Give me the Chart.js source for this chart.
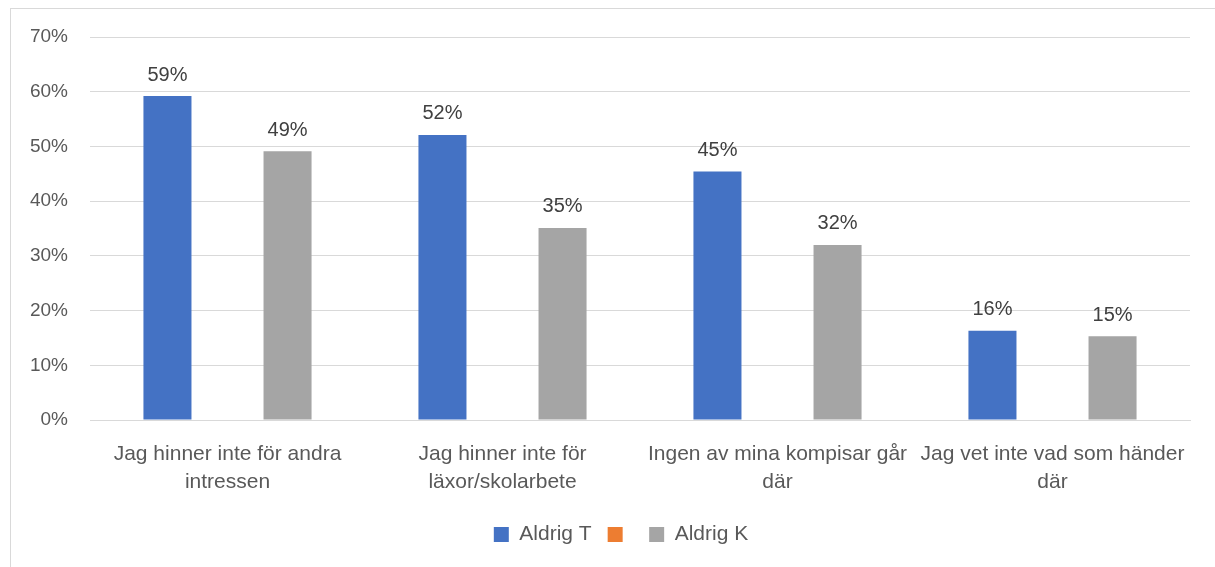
<!DOCTYPE html>
<html>
<head>
<meta charset="utf-8">
<script src="https://cdn.jsdelivr.net/npm/chart.js@4"></script>
<style>
  html, body { margin: 0; padding: 0; background: #fff; }
  #wrap { position: relative; width: 1215px; height: 567px; }
  #frame { position: absolute; left: 10px; top: 8px; width: 1215px; height: 600px; border: 1px solid #D9D9D9; box-sizing: border-box; }
  canvas { position: absolute; left: 0; top: 0; }
</style>
</head>
<body>
<div id="wrap">
  <div id="frame"></div>
  <canvas id="chart" width="1215" height="567"></canvas>
</div>
<script>
const categories = [
  ['Jag hinner inte för andra', 'intressen'],
  ['Jag hinner inte för', 'läxor/skolarbete'],
  ['Ingen av mina kompisar går', 'där'],
  ['Jag vet inte vad som händer', 'där']
];
const aldrigT = [59.2, 52.1, 45.4, 16.3];
const blank = [null, null, null, null];
const aldrigK = [49.1, 35.1, 32.0, 15.3];
const yTicks = [0, 10, 20, 30, 40, 50, 60, 70];

const font = 'Liberation Sans';

// labels above bars, rounded like the original
const barLabels = {
  id: 'barLabels',
  afterLayout(chart) {
    // the original legend sits a bit right of centre
    chart.legend.left += 52;
  },
  afterDatasetsDraw(chart) {
    const ctx = chart.ctx;
    ctx.save();
    ctx.font = '20px ' + font;
    ctx.fillStyle = '#404040';
    ctx.textAlign = 'center';
    ctx.textBaseline = 'bottom';
    chart.data.datasets.forEach((ds, i) => {
      const meta = chart.getDatasetMeta(i);
      meta.data.forEach((bar, j) => {
        const v = ds.data[j];
        if (v == null) return;
        ctx.fillText(Math.round(v) + '%', bar.x, bar.y - 11);
      });
    });
    ctx.restore();
  }
};

new Chart(document.getElementById('chart'), {
  type: 'bar',
  data: {
    labels: categories,
    datasets: [
      { label: 'Aldrig T', data: aldrigT, backgroundColor: '#4472C4' },
      { label: '', data: blank, backgroundColor: '#ED7D31' },
      { label: 'Aldrig K', data: aldrigK, backgroundColor: '#A5A5A5' }
    ]
  },
  options: {
    responsive: false,
    animation: false,
    categoryPercentage: 0.655,
    barPercentage: 0.8,
    layout: { padding: { top: 37, right: 25, left: 0, bottom: 12 } },
    plugins: {
      tooltip: { enabled: false },
      legend: {
        position: 'bottom',
        labels: {
          font: { family: font, size: 21 },
          color: '#595959',
          boxWidth: 15,
          boxHeight: 15,
          padding: 16
        }
      }
    },
    scales: {
      x: {
        afterFit(scale) { scale.height = 88; },
        grid: { display: false },
        border: { color: '#D9D9D9', width: 1 },
        ticks: {
          font: { family: font, size: 21, lineHeight: 1.33 },
          color: '#595959',
          padding: 12,
          maxRotation: 0,
          autoSkip: false
        }
      },
      y: {
        min: 0,
        max: 70,
        afterFit(scale) { scale.width = 90; },
        afterBuildTicks(scale) { scale.ticks = yTicks.map(v => ({ value: v })); },
        grid: { color: '#D9D9D9', drawTicks: false },
        border: { display: false },
        ticks: {
          font: { family: font, size: 19 },
          color: '#595959',
          padding: 22,
          callback: v => v + '%'
        }
      }
    }
  },
  plugins: [barLabels]
});
</script>
</body>
</html>
